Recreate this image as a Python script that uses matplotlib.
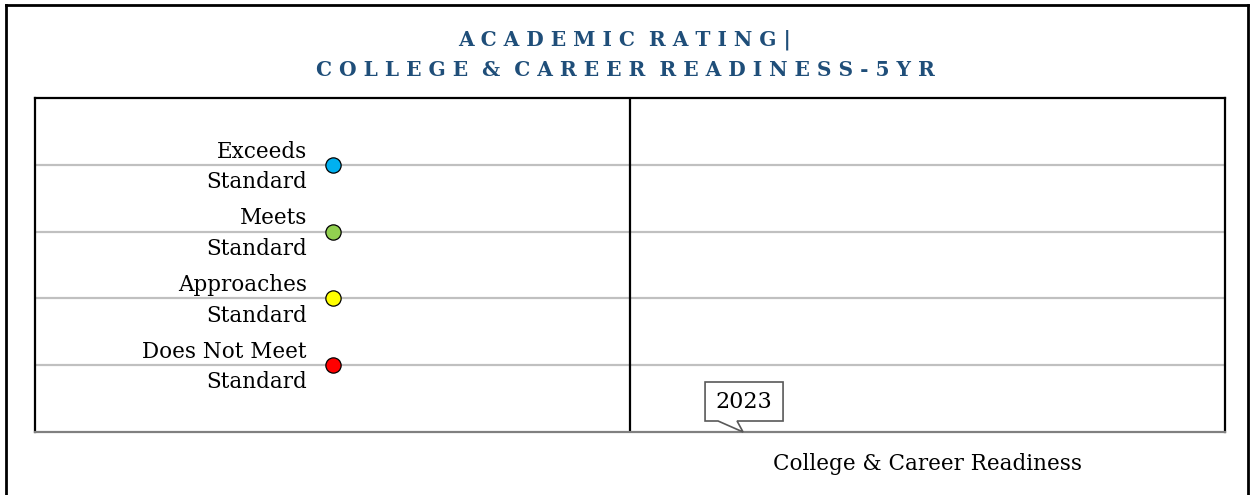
import matplotlib
matplotlib.use("Agg")
import matplotlib.pyplot as plt
from matplotlib.patches import Polygon
from matplotlib.transforms import Affine2D, ScaledTranslation, offset_copy

# ---- data ----
rating_labels = ["Does Not Meet\nStandard", "Approaches\nStandard", "Meets\nStandard", "Exceeds\nStandard"]
rating_levels = [1, 2, 3, 4]
rating_colors = ["#FF0000", "#FFFF00", "#92D050", "#00B0F0"]
categories = ["", "College & Career Readiness"]
years = ["2023"]
year_x = [1.19]
year_values = [0]

title_lines = ["ACADEMIC RATING|", "COLLEGE & CAREER READINESS-5YR"]

SERIF = ["DejaVu Serif"]

fig = plt.figure(figsize=(12.51, 4.95), dpi=100)
W, H = 1251, 495

# outer frame (top, left, right)
fig.add_artist(plt.Line2D([6 / W, 6 / W], [0, 1 - 5 / H], color="black", lw=2, transform=fig.transFigure))
fig.add_artist(plt.Line2D([6 / W, 1248 / W], [1 - 5 / H, 1 - 5 / H], color="black", lw=2, transform=fig.transFigure))
fig.add_artist(plt.Line2D([1248 / W, 1248 / W], [0, 1 - 5 / H], color="black", lw=2, transform=fig.transFigure))

ax = fig.add_axes([35 / W, (H - 432) / H, 1190 / W, 334 / H])
ax.set_xlim(0, 2)
ax.set_ylim(0, 5)

for s in ["top", "left", "right"]:
    ax.spines[s].set_color("black")
    ax.spines[s].set_linewidth(1.6)
ax.spines["bottom"].set_color("#808080")
ax.spines["bottom"].set_linewidth(1.6)

ax.set_yticks([])
ax.set_xticks([])

for lv in rating_levels:
    ax.axhline(lv, color="#C0C0C0", lw=1.6, zorder=1)
ax.axvline(1, color="black", lw=1.6, zorder=2)

# legend-like rating markers
label_tr = offset_copy(ax.transData, fig=fig, x=0, y=-2, units="dots")
for lab, lv, col in zip(rating_labels, rating_levels, rating_colors):
    ax.plot([0.50], [lv], marker="o", ms=11, mfc=col, mec="black", mew=0.9, zorder=3, clip_on=False)
    ax.text(0.457, lv, lab, ha="right", va="center", fontsize=15.5, family=SERIF,
            linespacing=1.5, color="black", transform=label_tr)

# category label
for i, c in enumerate(categories):
    if c:
        ax.text(i + 0.5, -0.48, c, ha="center", va="center", fontsize=15.5, family=SERIF,
                transform=ax.transData, clip_on=False)

# callout for year
for yr, xv, yv in zip(years, year_x, year_values):
    tr = Affine2D().scale(fig.dpi / 72.0) + ScaledTranslation(xv, yv, ax.transData)
    k = 0.72
    pts = [(-38, 11), (-38, 50), (40, 50), (40, 11), (-6, 11), (0, 0), (-25, 11)]
    pts = [(px * k, py * k) for px, py in pts]
    poly = Polygon(pts, closed=True, fc="white", ec="#595959", lw=1.2, transform=tr, zorder=5, clip_on=False)
    ax.add_patch(poly)
    ax.text(1 * k, 30.5 * k, yr, ha="center", va="center", fontsize=16, family=SERIF,
            transform=tr, zorder=6)

# title
def spaced(s):
    return " ".join(list(s)).replace("   ", "  ")

fig.text(625 / W, 1 - 40 / H, spaced(title_lines[0]), ha="center", va="center", fontsize=14.5,
         fontweight="bold", color="#1F4E79", family=SERIF)
fig.text(625 / W, 1 - 70 / H, spaced(title_lines[1]), ha="center", va="center", fontsize=14.5,
         fontweight="bold", color="#1F4E79", family=SERIF)

fig.savefig("out.png", dpi=100, facecolor="white")
